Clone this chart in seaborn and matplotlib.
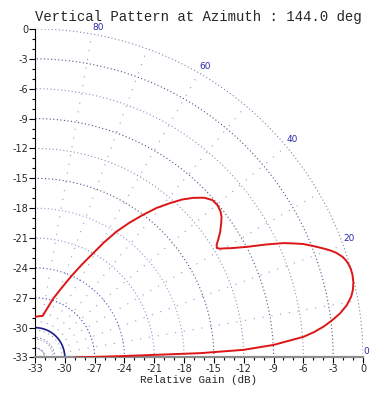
import numpy as np
import pandas as pd
import matplotlib
matplotlib.use("Agg")
import matplotlib.pyplot as plt
import seaborn as sns
from matplotlib.ticker import MultipleLocator

sns.set_theme(style="white")
plt.rcParams["font.family"] = ["DejaVu Sans"]
plt.rcParams["axes.unicode_minus"] = False

# elevation pattern (deg, relative gain dB)
elev_deg = [0, 0.9, 1.3, 1.5, 2.1, 3.0, 4.4, 5.2, 6.1, 7.1, 8.2, 9.5, 10.9, 12.0, 13.2,
            14.5, 15.6, 16.6, 17.4, 18.1, 19.1, 19.9, 20.7, 21.8, 22.9, 23.8, 24.7, 26.0,
            27.3, 28.3, 29.2, 29.9, 30.4, 31.0, 31.8, 32.7, 34.1, 35.8, 37.0, 38.2, 39.8,
            41.5, 43.3, 45.2, 47.0, 48.8, 50.8, 52.8, 55.0, 57.0, 59.0, 60.8, 63.3, 65.8,
            69.0, 72.8, 79.5, 90]
gain_db = [-29.0, -24.4, -20.4, -16.4, -12.0, -9.0, -5.9, -4.8, -3.8, -2.9, -2.0, -1.2,
           -0.6, -0.3, -0.1, 0.0, 0.0, -0.1, -0.25, -0.45, -0.9, -1.4, -2.0, -2.85, -3.7,
           -4.6, -5.5, -7.1, -8.7, -9.7, -10.5, -11.0, -11.4, -11.65, -11.5, -11.1, -10.5,
           -9.9, -9.5, -9.25, -9.1, -9.15, -9.6, -10.4, -11.3, -12.4, -13.6, -15.0, -16.5,
           -17.9, -19.5, -21.0, -22.6, -24.0, -25.5, -26.8, -28.75, -28.9]

floor_db = -33
ring_radii = [1, 2, 3, 6, 9, 12, 15, 18, 21, 24, 27, 30, 33]
ring_colors = ["#7070c0", "#7070c0", "#1a1a8c", "#3535c0", "#5050c8", "#8a8ad8",
               "#9a9ad8", "#50508a", "#9090c0", "#50508a", "#9090c0", "#50508a", "#8080b0"]
spoke_angles = [10, 20, 30, 40, 50, 60, 70, 80]
angle_labels = [0, 20, 40, 60, 80]
ticks = np.arange(-33, 1, 3)

fig = plt.figure(figsize=(3.75, 3.97), dpi=100)
ax = fig.add_axes([0.0933, 0.0995, 0.8747, 0.8275])

# polar grid drawn around the bottom-left corner
t = np.radians(np.linspace(0, 90, 200))
for r, c in zip(ring_radii, ring_colors):
    ls = "-" if r == 3 else (0, (1, 2.2))
    lw = 1.2 if r == 3 else 0.8
    ax.plot(floor_db + r * np.cos(t), floor_db + r * np.sin(t), color=c, lw=lw, ls=ls, zorder=1)
for a in spoke_angles:
    ar = np.radians(a)
    ax.plot([floor_db, floor_db + 33 * np.cos(ar)], [floor_db, floor_db + 33 * np.sin(ar)],
            color="#9a9ab8", lw=0.8, ls=(0, (1, 7)), zorder=1)
for a in angle_labels:
    ar = np.radians(a)
    ax.text(floor_db + 33 * np.cos(ar), floor_db + 33 * np.sin(ar) + 0.2, str(a),
            color="#2a2aaa", fontsize=6.5, ha="left", va="bottom", clip_on=False)

# pattern curve
th = np.radians(elev_deg)
rr = np.array(gain_db) - floor_db
df = pd.DataFrame({"x": floor_db + rr * np.cos(th), "y": floor_db + rr * np.sin(th)})
sns.lineplot(data=df, x="x", y="y", sort=False, estimator=None, color="#dd1515", lw=1.4,
             ax=ax, zorder=3)

ax.set_xlim(-33, 0)
ax.set_ylim(-33, 0)
ax.set_xticks(ticks)
ax.set_yticks(ticks)
ax.xaxis.set_minor_locator(MultipleLocator(1))
ax.yaxis.set_minor_locator(MultipleLocator(1))
ax.tick_params(which="major", direction="out", length=4, width=0.8, color="black",
               labelsize=7, pad=1, bottom=True, left=True)
ax.tick_params(which="minor", direction="out", length=2.5, width=0.8, color="black",
               bottom=True, left=True)
for s in ["top", "right"]:
    ax.spines[s].set_visible(False)
ax.spines["left"].set_color("black")
ax.spines["left"].set_linewidth(0.8)
ax.spines["bottom"].set_color("#8c8c8c")
ax.spines["bottom"].set_linewidth(1.6)
ax.grid(False)

ax.set_xlabel("Relative Gain (dB)", family="Liberation Mono", fontsize=7.8, labelpad=0.5)
ax.set_ylabel("")
fig.text(0.53, 0.975, "Vertical Pattern at Azimuth : 144.0 deg", family="Liberation Mono",
         fontsize=10.1, ha="center", va="top")

fig.savefig("out.png", dpi=100)
